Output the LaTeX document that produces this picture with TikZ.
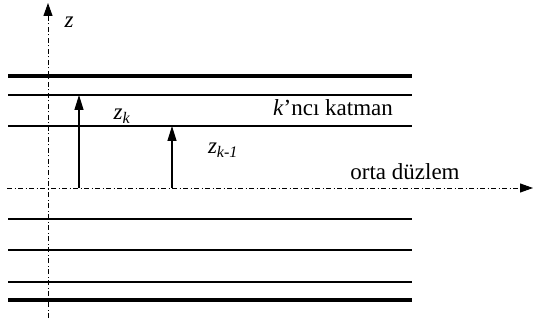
\documentclass[tikz,border=0pt]{standalone}
\usepackage{fontspec}
\setmainfont{Liberation Serif}
\usetikzlibrary{arrows.meta}
\begin{document}
\begin{tikzpicture}[x=1pt,y=-1pt,
  thin line/.style={line width=1.6pt},
  thick line/.style={line width=3.6pt},
  axis/.style={line width=1pt, dash pattern=on 5pt off 2.5pt on 1pt off 2.5pt, -{Triangle[length=13pt,width=9pt]}},
  zarrow/.style={line width=1.3pt, -{Triangle[length=15pt,width=9pt]}},
  lbl/.style={font=\fontsize{23}{26}\selectfont, inner sep=0pt}]
\useasboundingbox (0,0) rectangle (534,320);
% layers
\coordinate (t0a) at (8,76); \coordinate (t0b) at (412,76);
\draw[thick line] (t0a) -- (t0b);
\coordinate (l1a) at (8,95); \coordinate (l1b) at (412,95);
\draw[thin line] (l1a) -- (l1b);
\coordinate (l2a) at (8,126); \coordinate (l2b) at (412,126);
\draw[thin line] (l2a) -- (l2b);
\coordinate (l3a) at (8,219); \coordinate (l3b) at (412,219);
\draw[thin line] (l3a) -- (l3b);
\coordinate (l4a) at (8,250); \coordinate (l4b) at (412,250);
\draw[thin line] (l4a) -- (l4b);
\coordinate (l5a) at (8,282); \coordinate (l5b) at (412,282);
\draw[thin line] (l5a) -- (l5b);
\coordinate (l6a) at (8,300); \coordinate (l6b) at (412,300);
\draw[thick line] (l6a) -- (l6b);
% axes
\coordinate (zb) at (48,318); \coordinate (zt) at (48,3);
\draw[axis] (zb) -- (zt);
\coordinate (ma) at (7,188); \coordinate (mb) at (533,188);
\draw[axis] (ma) -- (mb);
% arrows
\coordinate (ak0) at (79,188); \coordinate (ak1) at (79,95);
\draw[zarrow] (ak0) -- (ak1);
\coordinate (am0) at (172,188); \coordinate (am1) at (172,126);
\draw[zarrow] (am0) -- (am1);
% labels
\node[lbl] (zl) at (69,22) {\textit{z}};
\node[lbl] (zk) at (122,116) {\textit{z\textsubscript{k}}};
\node[lbl] (zk1) at (223,150) {\textit{z\textsubscript{k-1}}};
\node[lbl] (kat) at (333,108) {\textit{k}’ncı katman};
\node[lbl] (orta) at (405,172) {orta düzlem};
\end{tikzpicture}
\end{document}
